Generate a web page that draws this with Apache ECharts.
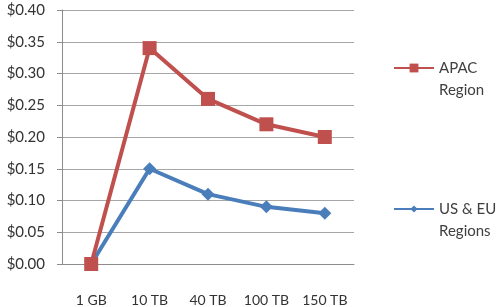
<!DOCTYPE html>
<html>
<head>
<meta charset="utf-8">
<script src="https://cdn.jsdelivr.net/npm/echarts@6/dist/echarts.min.js"></script>
<style>
  html, body { margin: 0; padding: 0; background: #fff; }
  #chart { width: 500px; height: 307px; }
</style>
</head>
<body>
<div id="chart"></div>
<script>
// data
const sizes = ["1 GB", "10 TB", "40 TB", "100 TB", "150 TB"];
const apac = [0, 0.34, 0.26, 0.22, 0.20];
const usEu = [0, 0.15, 0.11, 0.09, 0.08];

const font = "Lato, 'Open Sans', sans-serif";

let myChart = echarts.init(document.getElementById("chart"));
myChart.setOption({
  animation: false,
  grid: { left: 62, top: 10, right: 146, bottom: 42 },
  legend: [
    {
      data: ["APAC Region"],
      left: 388, top: 30,
      itemWidth: 40, itemHeight: 11,
      // blank first line keeps the icon level with "APAC"
      formatter: () => " \nAPAC\nRegion",
      textStyle: { fontFamily: font, fontSize: 15, color: "#404040", lineHeight: 22 }
    },
    {
      data: ["US & EU Regions"],
      left: 388, top: 171,
      itemWidth: 40, itemHeight: 9,
      formatter: () => " \nUS & EU\nRegions",
      textStyle: { fontFamily: font, fontSize: 15, color: "#404040", lineHeight: 22 }
    }
  ],
  xAxis: {
    type: "category",
    data: sizes,
    boundaryGap: true,
    axisLine: { lineStyle: { color: "#8c8c8c", width: 1 } },
    axisTick: { length: 5, lineStyle: { color: "#8c8c8c" } },
    axisLabel: { interval: 0, margin: 29, fontFamily: font, fontSize: 14, color: "#333" }
  },
  yAxis: {
    type: "value",
    min: 0, max: 0.4, interval: 0.05,
    axisLine: { show: true, lineStyle: { color: "#8c8c8c", width: 1 } },
    axisTick: { show: true, length: 5, lineStyle: { color: "#8c8c8c" } },
    splitLine: { lineStyle: { color: "#a6a6a6", width: 1 } },
    axisLabel: {
      margin: 17, fontFamily: font, fontSize: 15, color: "#333",
      formatter: v => "$" + v.toFixed(2)
    }
  },
  series: [
    {
      name: "US & EU Regions",
      type: "line",
      data: usEu,
      symbol: "diamond",
      symbolSize: 13,
      lineStyle: { color: "#4a7ebb", width: 4 },
      itemStyle: { color: "#4a7ebb" }
    },
    {
      name: "APAC Region",
      type: "line",
      data: apac,
      symbol: "rect",
      symbolSize: 14,
      lineStyle: { color: "#c0504d", width: 4 },
      itemStyle: { color: "#c0504d" }
    }
  ]
});
</script>
</body>
</html>
